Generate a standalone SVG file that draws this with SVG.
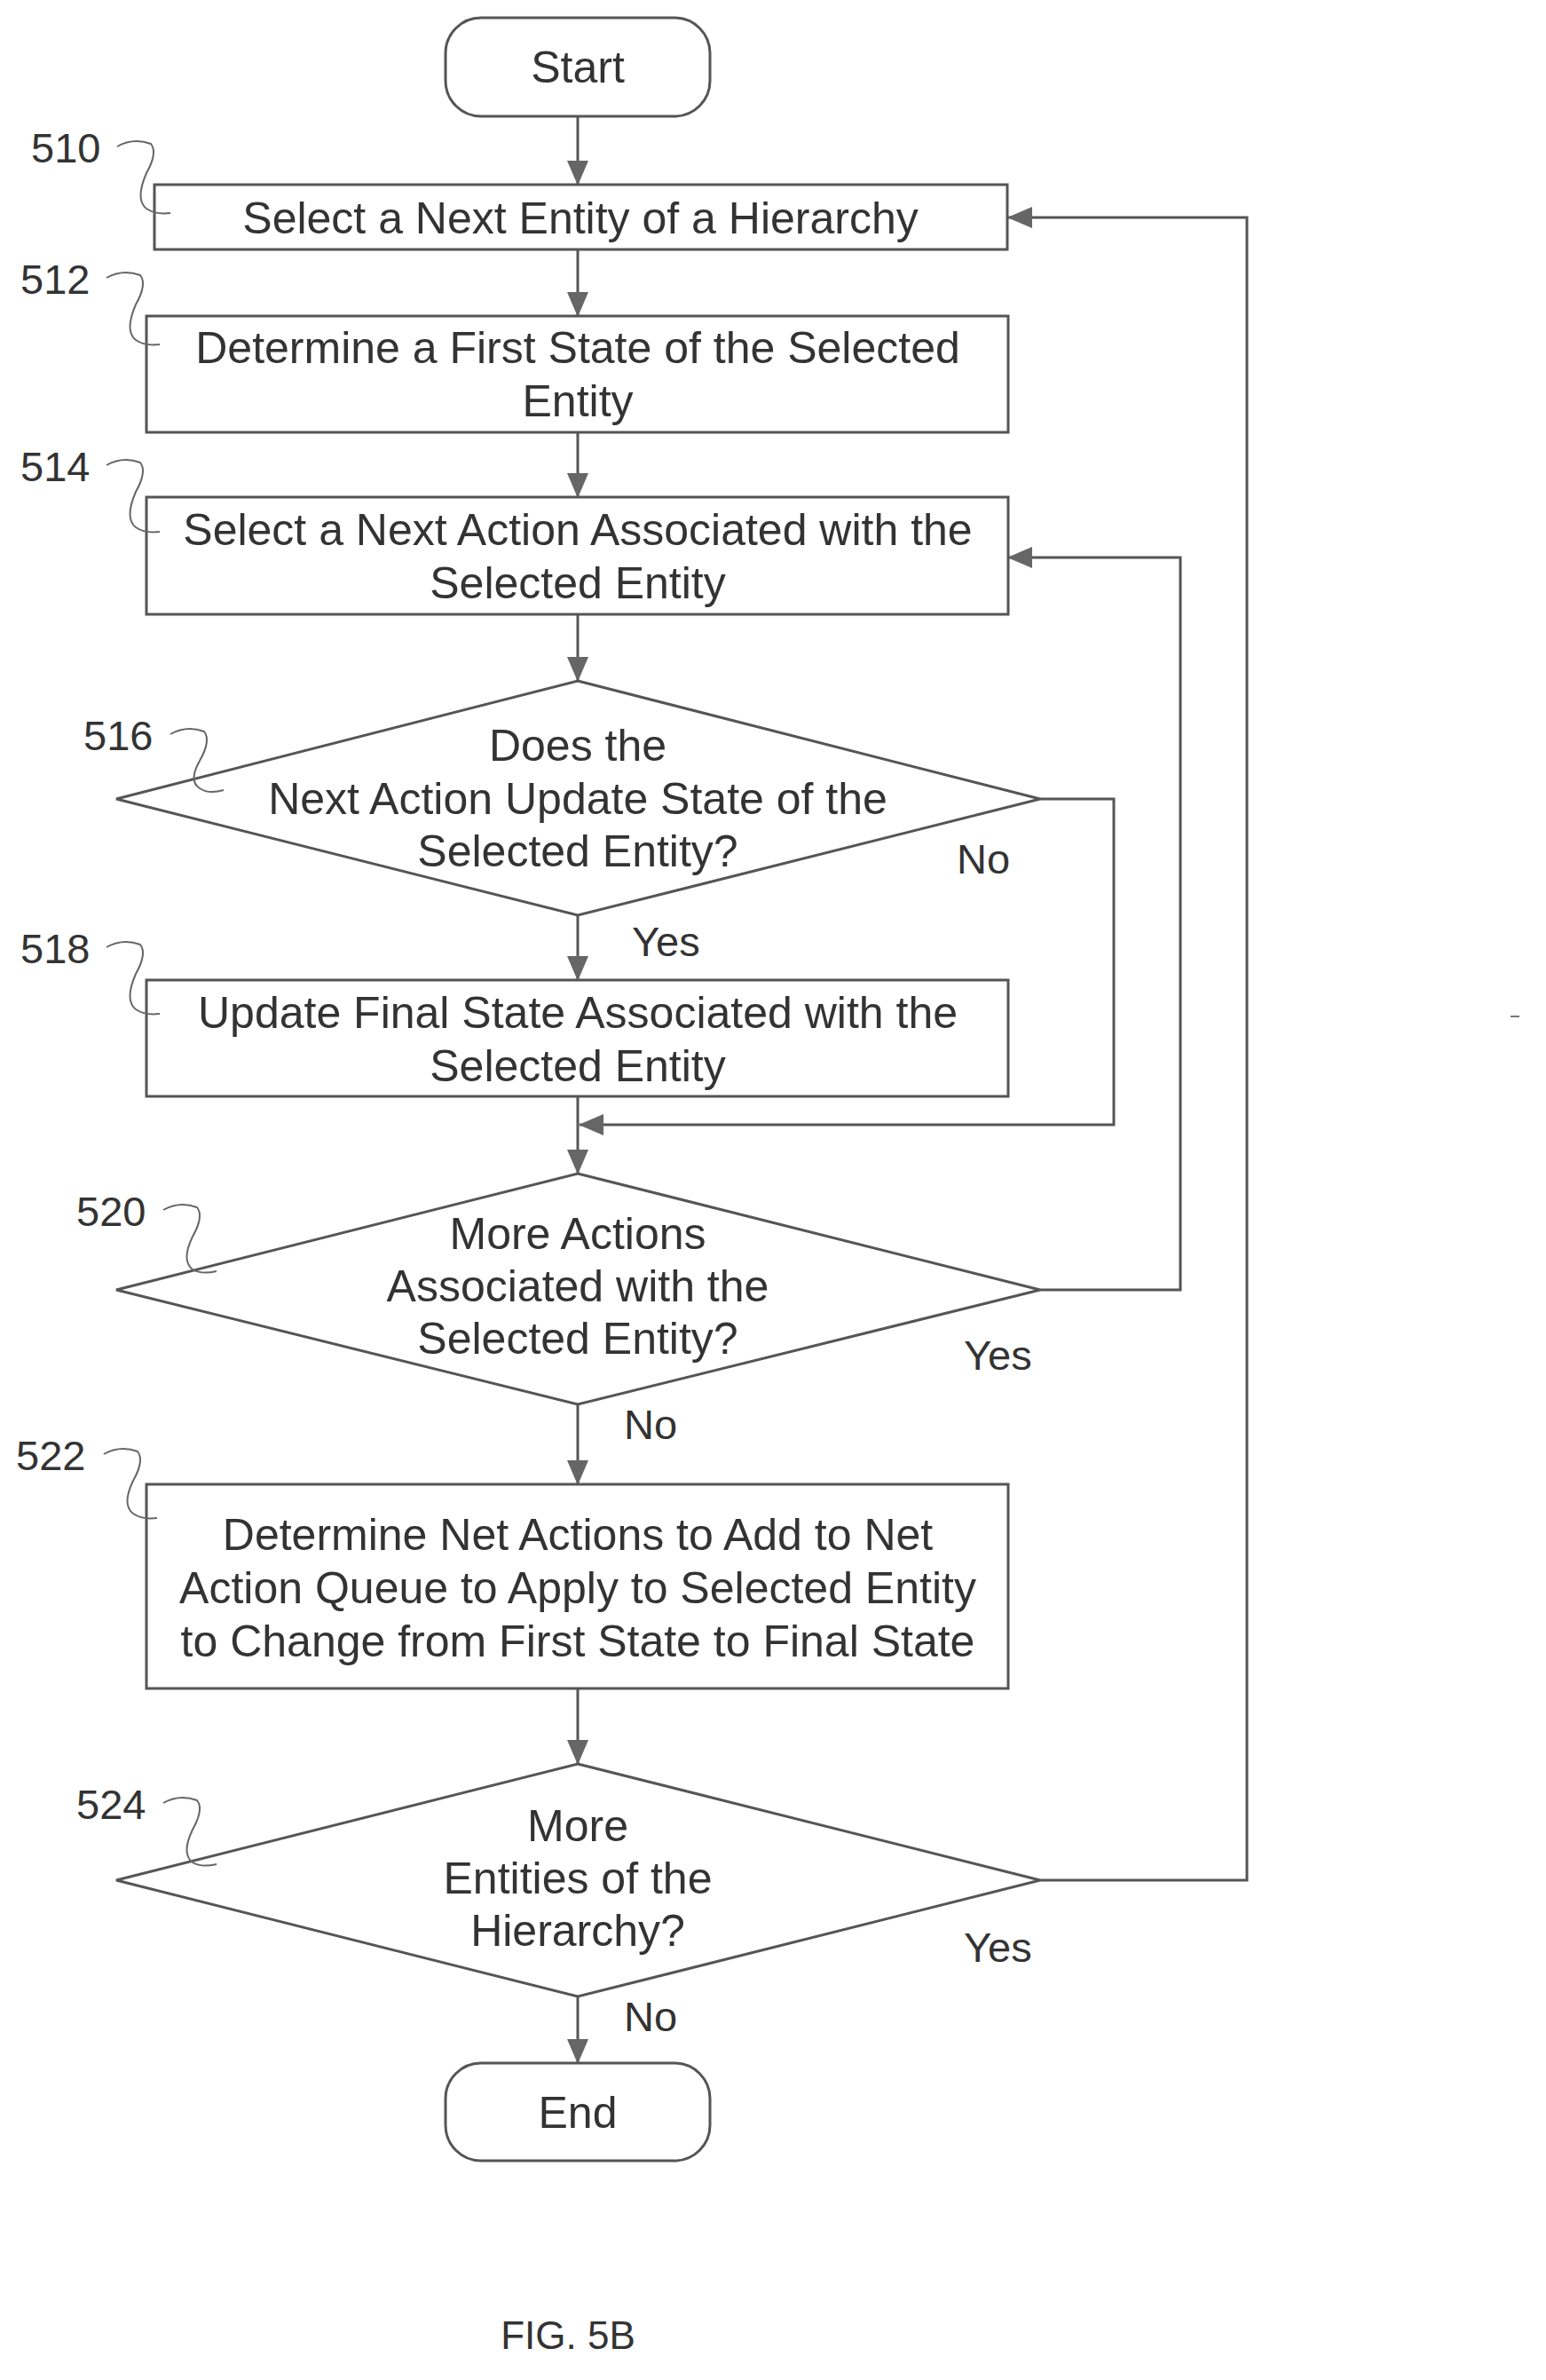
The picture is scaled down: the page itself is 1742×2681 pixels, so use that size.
<svg xmlns="http://www.w3.org/2000/svg" width="1742" height="2681" viewBox="0 0 1742 2681">
<style>
.b{fill:#fff;stroke:#555;stroke-width:3}
.t{font-family:"Liberation Sans",Arial,sans-serif;font-size:50px;fill:#333;text-anchor:middle;dominant-baseline:central}
.l{font-family:"Liberation Sans",Arial,sans-serif;font-size:47px;fill:#333;dominant-baseline:central}
.c{fill:none;stroke:#555;stroke-width:3}
.q{fill:none;stroke:#666;stroke-width:2}
</style>
<defs>
<marker id="ah" markerWidth="28" markerHeight="24" refX="27" refY="12" orient="auto" markerUnits="userSpaceOnUse"><path d="M0,0 L28,12 L0,24 z" fill="#666"/></marker></defs>
<rect width="1742" height="2681" fill="#fff"/>
<g id="connectors">
<path class="c" marker-end="url(#ah)" d="M651,131 V208"/>
<path class="c" marker-end="url(#ah)" d="M651,281 V356"/>
<path class="c" marker-end="url(#ah)" d="M651,487 V560"/>
<path class="c" marker-end="url(#ah)" d="M651,692 V767"/>
<path class="c" marker-end="url(#ah)" d="M651,1031 V1104"/>
<path class="c" marker-end="url(#ah)" d="M651,1235 V1322"/>
<path class="c" marker-end="url(#ah)" d="M1172,900 H1255 V1267 H653"/>
<path class="c" marker-end="url(#ah)" d="M1172,1453 H1330 V628 H1136"/>
<path class="c" marker-end="url(#ah)" d="M651,1582 V1672"/>
<path class="c" marker-end="url(#ah)" d="M651,1902 V1987"/>
<path class="c" marker-end="url(#ah)" d="M1172,2118 H1405 V245 H1136"/>
<path class="c" marker-end="url(#ah)" d="M651,2249 V2324"/>
<text class="l" x="1078" y="967">No</text>
<text class="l" x="712" y="1060">Yes</text>
<text class="l" x="1086" y="1526">Yes</text>
<text class="l" x="703" y="1604">No</text>
<text class="l" x="1086" y="2193">Yes</text>
<text class="l" x="703" y="2271">No</text>
</g>
<g id="start"><rect class="b" x="502" y="20" width="298" height="111" rx="40"/><text class="t" x="651" y="76">Start</text></g>
<g id="n510"><rect class="b" x="174" y="208" width="961" height="73"/><text class="t" x="654" y="246">Select a Next Entity of a Hierarchy</text>
<text class="l" x="35" y="166">510</text><path class="q" d="M132,165 Q150,155 170,162 Q178,172 165,195 Q152,225 165,235 Q175,242 192,240"/></g>
<g id="n512"><rect class="b" x="165" y="356" width="971" height="131"/><text class="t" x="651" y="392">Determine a First State of the Selected</text><text class="t" x="651" y="452">Entity</text>
<text class="l" x="23" y="314">512</text><path class="q" d="M120,313 Q138,303 158,310 Q166,320 153,343 Q140,373 153,383 Q163,390 180,388"/></g>
<g id="n514"><rect class="b" x="165" y="560" width="971" height="132"/><text class="t" x="651" y="597">Select a Next Action Associated with the</text><text class="t" x="651" y="657">Selected Entity</text>
<text class="l" x="23" y="525">514</text><path class="q" d="M120,524 Q138,514 158,521 Q166,531 153,554 Q140,584 153,594 Q163,601 180,599"/></g>
<g id="n516"><polygon class="b" points="651,767 1172,900 651,1031 131,900"/><text class="t" x="651" y="840">Does the</text><text class="t" x="651" y="900">Next Action Update State of the</text><text class="t" x="651" y="959">Selected Entity?</text>
<text class="l" x="94" y="828">516</text><path class="q" d="M192,827 Q210,817 230,824 Q238,834 225,857 Q212,880 225,888 Q235,895 252,890"/></g>
<g id="n518"><rect class="b" x="165" y="1104" width="971" height="131"/><text class="t" x="651" y="1141">Update Final State Associated with the</text><text class="t" x="651" y="1201">Selected Entity</text>
<text class="l" x="23" y="1068">518</text><path class="q" d="M120,1067 Q138,1057 158,1064 Q166,1074 153,1097 Q140,1127 153,1137 Q163,1144 180,1142"/></g>
<g id="n520"><polygon class="b" points="651,1322 1172,1453 651,1582 131,1453"/><text class="t" x="651" y="1390">More Actions</text><text class="t" x="651" y="1449">Associated with the</text><text class="t" x="651" y="1508">Selected Entity?</text>
<text class="l" x="86" y="1364">520</text><path class="q" d="M184,1363 Q202,1353 222,1360 Q230,1370 217,1393 Q204,1420 217,1430 Q227,1436 244,1432"/></g>
<g id="n522"><rect class="b" x="165" y="1672" width="971" height="230"/><text class="t" x="651" y="1729">Determine Net Actions to Add to Net</text><text class="t" x="651" y="1789">Action Queue to Apply to Selected Entity</text><text class="t" x="651" y="1849">to Change from First State to Final State</text>
<text class="l" x="18" y="1639">522</text><path class="q" d="M117,1638 Q135,1628 155,1635 Q163,1645 150,1668 Q137,1695 150,1705 Q160,1712 177,1710"/></g>
<g id="n524"><polygon class="b" points="651,1987 1172,2118 651,2249 131,2118"/><text class="t" x="651" y="2057">More</text><text class="t" x="651" y="2116">Entities of the</text><text class="t" x="651" y="2175">Hierarchy?</text>
<text class="l" x="86" y="2032">524</text><path class="q" d="M184,2031 Q202,2021 222,2028 Q230,2038 217,2061 Q204,2088 217,2098 Q227,2104 244,2100"/></g>
<g id="end"><rect class="b" x="502" y="2324" width="298" height="110" rx="40"/><text class="t" x="651" y="2380">End</text></g>
<line x1="1702" y1="1145" x2="1712" y2="1145" stroke="#777" stroke-width="2"/>
<text class="t" x="640" y="2630" style="font-size:44px">FIG. 5B</text>
</svg>
